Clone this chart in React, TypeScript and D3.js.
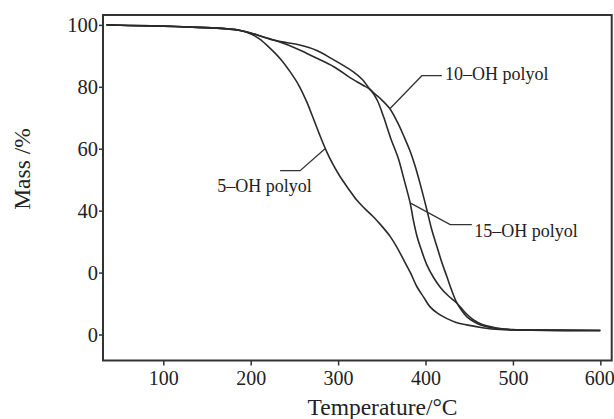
import React, { useEffect, useRef } from 'react'
import * as d3 from 'd3'

// TGA curves: [temperature °C, mass %]
const fiveOH: [number, number][] = [
  [35, 100], [60, 99.8], [100, 99.6], [140, 99.2], [170, 98.8], [188, 98.2],
  [199, 97.2], [210, 95.5], [222, 92.5], [234, 89], [245, 84.9], [255, 80.5],
  [264, 75.2], [272, 69.5], [279, 64.4], [287, 59], [294, 55], [302, 51.1],
  [312, 47], [321, 43.5], [330, 40.8], [340, 38.1], [350, 35], [359.5, 31.7],
  [367, 28.3], [375, 24.1], [383, 19.8], [390, 15.5], [398, 12], [405, 9],
  [414, 6.8], [424, 5.2], [435, 3.9], [447, 3.1], [465, 2.2], [485, 1.6],
  [520, 1.4], [600, 1.3],
]

const tenOH: [number, number][] = [
  [35, 100], [60, 99.8], [100, 99.6], [140, 99.2], [170, 98.8], [188, 98.2],
  [200, 97.4], [210, 96.5], [222, 95.5], [234, 94.6], [256, 93.5], [275, 91.8],
  [295, 88.7], [317, 84.9], [328, 82.3], [337, 79], [348, 76.3], [359, 73],
  [368, 68.5], [376, 63.5], [382, 59.5], [388, 54.5], [394, 48.5], [401.5, 40.3],
  [407, 34], [413, 28.4], [419, 23], [424.4, 18.7], [430, 14.2], [436, 10.1],
  [442, 7.5], [447, 5.8], [455, 4.2], [463, 3.1], [475, 2.2], [495, 1.6],
  [520, 1.4], [600, 1.3],
]

const fifteenOH: [number, number][] = [
  [35, 100], [60, 99.8], [100, 99.6], [140, 99.2], [170, 98.8], [188, 98.2],
  [200, 97.4], [210, 96.5], [222, 95.4], [234, 94.4], [256, 91.9], [275, 89.3],
  [295, 86.5], [317, 82.4], [328, 80.6], [337, 79], [345, 75.5], [352, 70.3],
  [360, 63.5], [369, 56.8], [375, 50.5], [382.4, 42.5], [386, 37], [390, 32],
  [395, 27.5], [401.5, 22.5], [409, 18.5], [416.8, 15.3], [426, 12.5], [436, 10.1],
  [445, 7.2], [455, 4.7], [465, 3.2], [480, 2.2], [500, 1.6], [530, 1.4],
  [600, 1.3],
]

const xTicks = [100, 200, 300, 400, 500, 600]
const yTicks = [100, 80, 60, 40, 20, 0]
const yTickLabels = ['100', '80', '60', '40', '0', '0']

// leader lines: point on curve, elbow, end of horizontal, text anchor (data units)
const labels = [
  { text: '10–OH polyol', pts: [[359.5, 73], [395.8, 83.6], [418.7, 83.6]], at: [422.4, 83.6] },
  { text: '15–OH polyol', pts: [[382.4, 42.5], [428.2, 35.5], [453, 35.5]], at: [455.7, 32.7] },
  { text: '5–OH polyol', pts: [[285, 60], [256.5, 52.9], [233.6, 52.9]], at: [161.6, 47.2] },
]

const W = 614
const H = 419

export default function App() {
  const svgRef = useRef<SVGSVGElement>(null)

  useEffect(() => {
    const svg = d3.select(svgRef.current)
    svg.selectAll('*').remove()

    const x = d3.scaleLinear().domain([31, 613]).range([103, 611.7])
    const y = d3.scaleLinear().domain([-8.4, 103.2]).range([360.5, 15])
    const font = '"Liberation Serif", "Times New Roman", serif'

    const xAxis = d3.axisBottom(x).tickValues(xTicks).tickSize(5).tickPadding(5).tickFormat(d3.format('d'))
    const gx = svg.append('g').attr('transform', `translate(0,${y.range()[0]})`).call(xAxis)
    gx.select('.domain').remove()
    gx.selectAll('line').attr('stroke', '#333').attr('stroke-width', 1.5)
    gx.selectAll('text').attr('font-family', font).attr('font-size', 20).attr('fill', '#222')
    // last label sits on the page edge, keep it inside
    gx.selectAll<SVGTextElement, number>('text').filter(d => d === 600)
      .attr('text-anchor', 'end').attr('dx', 14)

    const yAxis = d3.axisLeft(y).tickValues(yTicks).tickSize(4).tickPadding(1)
      .tickFormat((_, i) => yTickLabels[i])
    const gy = svg.append('g').attr('transform', `translate(${x.range()[0]},0)`).call(yAxis)
    gy.select('.domain').remove()
    gy.selectAll('line').attr('stroke', '#333').attr('stroke-width', 1.5)
    gy.selectAll('text').attr('font-family', font).attr('font-size', 20.5).attr('fill', '#222')

    // frame
    svg.append('rect')
      .attr('x', x.range()[0]).attr('y', y.range()[1])
      .attr('width', x.range()[1] - x.range()[0])
      .attr('height', y.range()[0] - y.range()[1])
      .attr('fill', 'none').attr('stroke', '#333').attr('stroke-width', 2)

    const line = d3.line<[number, number]>()
      .x(d => x(d[0])).y(d => y(d[1]))
      .curve(d3.curveCatmullRom.alpha(0.5))

    svg.selectAll('.curve')
      .data([fiveOH, tenOH, fifteenOH])
      .join('path')
      .attr('class', 'curve')
      .attr('d', line)
      .attr('fill', 'none')
      .attr('stroke', '#2a2a2a')
      .attr('stroke-width', 1.6)

    const leader = d3.line<number[]>().x(d => x(d[0])).y(d => y(d[1]))
    labels.forEach(l => {
      svg.append('path')
        .attr('d', leader(l.pts))
        .attr('fill', 'none').attr('stroke', '#333').attr('stroke-width', 1.3)
      svg.append('text')
        .attr('x', x(l.at[0])).attr('y', y(l.at[1]))
        .attr('dominant-baseline', 'middle')
        .attr('font-family', font).attr('font-size', 18).attr('fill', '#222')
        .text(l.text)
    })

    svg.append('text')
      .attr('x', 382.5)
      .attr('y', 415)
      .attr('text-anchor', 'middle')
      .attr('font-family', font).attr('font-size', 23.5).attr('fill', '#222')
      .text('Temperature/°C')

    svg.append('text')
      .attr('transform', 'translate(30,169) rotate(-90)')
      .attr('text-anchor', 'middle')
      .attr('font-family', font).attr('font-size', 23.5).attr('fill', '#222')
      .text('Mass /%')
  }, [])

  return (
    <div style={{ position: 'absolute', left: 0, top: 0 }}>
      <svg ref={svgRef} width={W} height={H} style={{ display: 'block', background: '#fff' }} />
    </div>
  )
}
